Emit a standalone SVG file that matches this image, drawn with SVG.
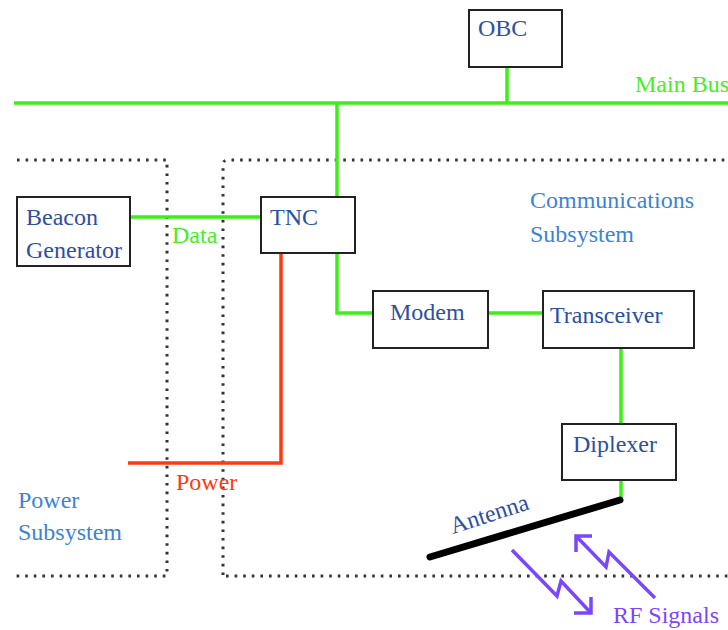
<svg xmlns="http://www.w3.org/2000/svg" width="728" height="630" viewBox="0 0 728 630">
<style>
.box{fill:#fff;stroke:#222;stroke-width:2}
.lbl{font-family:"Liberation Serif",serif;font-size:24px;fill:#2d4fa3}
.sub{font-family:"Liberation Serif",serif;font-size:24px;fill:#3a84d6}
.dot{fill:none;stroke:#333;stroke-width:3;stroke-dasharray:2.6 6}
.g{fill:none;stroke:#3def16;stroke-width:3.5}
.r{fill:none;stroke:#ff3a10;stroke-width:3.5}
.rf{fill:none;stroke:#7b46ff;stroke-width:3.5;stroke-linejoin:miter}
</style>
<rect width="728" height="630" fill="#fff"/>
<g id="boundaries">
<path class="dot" d="M17 160 H167 V576 H14"/>
<path class="dot" d="M223 575 V165 Q223 160 228 160 H728"/>
<path class="dot" d="M226 576 H728"/>
</g>
<g id="connectors">
<path class="g" d="M14 103 H728"/>
<path class="g" d="M507 67 V103"/>
<path class="g" d="M337 103 V197"/>
<path class="g" d="M130 217 H261"/>
<path class="g" d="M337 253 V313 H373"/>
<path class="g" d="M488 313 H543"/>
<path class="g" d="M621 348 V424"/>
<path class="g" d="M621 480 V500"/>
<path class="r" d="M281 253 V463 H128"/>
</g>
<g id="OBC"><rect class="box" x="469" y="10" width="93" height="57"/><text class="lbl" x="478" y="36">OBC</text></g>
<g id="beacon"><rect class="box" x="17" y="197" width="113" height="69"/><text class="lbl" x="26" y="225">Beacon</text><text class="lbl" x="26" y="258">Generator</text></g>
<g id="TNC"><rect class="box" x="261" y="197" width="94" height="56"/><text class="lbl" x="270" y="225">TNC</text></g>
<g id="modem"><rect class="box" x="373" y="291" width="115" height="57"/><text class="lbl" x="390" y="320">Modem</text></g>
<g id="transceiver"><rect class="box" x="543" y="291" width="151" height="57"/><text class="lbl" x="550" y="323">Transceiver</text></g>
<g id="diplexer"><rect class="box" x="562" y="424" width="114" height="56"/><text class="lbl" x="573" y="452">Diplexer</text></g>
<g id="antenna">
<path d="M430 557 L620 500" stroke="#000" stroke-width="7" stroke-linecap="round"/>
<text class="lbl" transform="translate(453,534) rotate(-18)">Antenna</text>
</g>
<g id="rf">
<path class="rf" d="M512 550 L557 596 L561 581 L591 613"/>
<path class="rf" d="M574 613 H591 V597"/>
<path class="rf" d="M655 598 L609 552 L606 567 L576 536"/>
<path class="rf" d="M592 536 H576 V552"/>
</g>
<g id="labels">
<text x="635" y="92" font-family="Liberation Serif,serif" font-size="24" fill="#44f020">Main Bus</text>
<text x="172" y="243" font-family="Liberation Serif,serif" font-size="24" fill="#44f020">Data</text>
<text x="176" y="490" font-family="Liberation Serif,serif" font-size="24" fill="#ff3a10">Power</text>
<text class="sub" x="530" y="208">Communications</text>
<text class="sub" x="530" y="242">Subsystem</text>
<text class="sub" x="18" y="508">Power</text>
<text class="sub" x="18" y="540">Subsystem</text>
<text x="613" y="623" font-family="Liberation Serif,serif" font-size="24" fill="#7b46ff">RF Signals</text>
</g>
</svg>
